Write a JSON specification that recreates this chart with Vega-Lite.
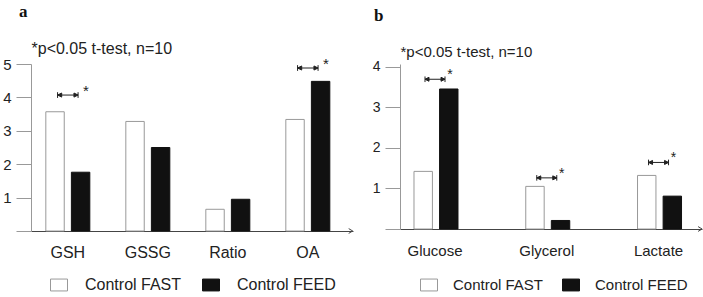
{
  "$schema": "https://vega.github.io/schema/vega-lite/v6.json",
  "padding": {"left": 2, "top": 3, "right": 0, "bottom": 0},
  "background": "white",
  "config": {
    "view": {"stroke": null},
    "font": "Liberation Sans",
    "title": {"font": "Liberation Serif", "fontWeight": "bold", "fontSize": 17, "color": "#111", "anchor": "start", "frame": "group"},
    "axisY": {"grid": false, "tickSize": 15, "tickColor": "#999999", "domainColor": "#999999", "domain": true, "ticks": true, "labelPadding": 5, "labelColor": "#222222", "labelOverlap": false, "labelExpr": "datum.value == 0 ? '' : datum.label", "titleAngle": 0, "titleAlign": "left", "titleBaseline": "alphabetic", "titleX": 0, "titleFontWeight": "normal", "titleColor": "#222222"},
    "axisX": {"ticks": false, "labelColor": "#222222", "domainColor": "#444444", "labelAngle": 0, "grid": false}
  },
  "datasets": {
    "barsA": [
      {"cat": "GSH", "grp": "Control FAST", "value": 3.57},
      {"cat": "GSH", "grp": "Control FEED", "value": 1.76},
      {"cat": "GSSG", "grp": "Control FAST", "value": 3.28},
      {"cat": "GSSG", "grp": "Control FEED", "value": 2.5},
      {"cat": "Ratio", "grp": "Control FAST", "value": 0.65},
      {"cat": "Ratio", "grp": "Control FEED", "value": 0.95},
      {"cat": "OA", "grp": "Control FAST", "value": 3.34},
      {"cat": "OA", "grp": "Control FEED", "value": 4.48}
    ],
    "sigA": [
      {"cat": "GSH", "y": 4.07},
      {"cat": "OA", "y": 4.88}
    ],
    "barsB": [
      {"cat": "Glucose", "grp": "Control FAST", "value": 1.42},
      {"cat": "Glucose", "grp": "Control FEED", "value": 3.45},
      {"cat": "Glycerol", "grp": "Control FAST", "value": 1.05},
      {"cat": "Glycerol", "grp": "Control FEED", "value": 0.21},
      {"cat": "Lactate", "grp": "Control FAST", "value": 1.32},
      {"cat": "Lactate", "grp": "Control FEED", "value": 0.81}
    ],
    "sigB": [
      {"cat": "Glucose", "y": 3.69},
      {"cat": "Glycerol", "y": 1.26},
      {"cat": "Lactate", "y": 1.64}
    ]
  },
  "spacing": 17,
  "resolve": {"scale": {"fill": "independent", "stroke": "independent", "x": "independent", "y": "independent"}, "legend": {"fill": "independent", "stroke": "independent"}},
  "hconcat": [
    {
      "width": 322,
      "height": 167,
      "title": {"text": "a", "dx": -12, "offset": 19},
      "layer": [
        {
          "data": {"name": "barsA"},
          "mark": {"type": "bar", "strokeWidth": 1},
          "encoding": {
            "x": {"field": "cat", "type": "nominal", "sort": ["GSH", "GSSG", "Ratio", "OA"],
              "scale": {"paddingInner": 0.45, "paddingOuter": 0.2375, "align": 0.39},
              "axis": {"title": null, "labelPadding": 13, "labelFontSize": 16}},
            "xOffset": {"field": "grp", "type": "nominal", "sort": ["Control FAST", "Control FEED"], "scale": {"paddingInner": 0.28, "paddingOuter": 0}},
            "y": {"field": "value", "type": "quantitative", "scale": {"domain": [0, 5], "nice": false},
              "axis": {"values": [0, 1, 2, 3, 4, 5], "labelFontSize": 15, "title": "*p<0.05 t-test, n=10", "titleY": -11, "titleFontSize": 16}},
            "fill": {"field": "grp", "type": "nominal", "scale": {"domain": ["Control FAST", "Control FEED"], "range": ["#ffffff", "#111111"]},
              "legend": {"title": null, "orient": "none", "legendX": 19, "legendY": 212, "direction": "horizontal", "symbolType": "M-1,-0.7H1V0.7H-1Z", "symbolSize": 289, "labelFontSize": 16, "labelOffset": 17, "columnPadding": 18, "symbolStrokeWidth": 1, "labelColor": "#222"}},
            "stroke": {"field": "grp", "type": "nominal", "scale": {"domain": ["Control FAST", "Control FEED"], "range": ["#999999", "#111111"]},
              "legend": {"title": null, "orient": "none", "legendX": 19, "legendY": 212, "direction": "horizontal", "symbolType": "M-1,-0.7H1V0.7H-1Z", "symbolSize": 289, "labelFontSize": 16, "labelOffset": 17, "columnPadding": 18, "symbolStrokeWidth": 1, "labelColor": "#222"}}
          }
        },
        {
          "mark": {"type": "rule", "strokeDash": [1, 2], "color": "#aaaaaa", "strokeWidth": 1},
          "encoding": {"y": {"datum": 3, "type": "quantitative", "axis": {"values": [0, 1, 2, 3, 4, 5], "labelFontSize": 15, "title": "*p<0.05 t-test, n=10", "titleY": -11, "titleFontSize": 16}}}
        },
        {
          "data": {"name": "sigA"},
          "mark": {"type": "point", "shape": "M-1,-0.28L-1,0.28M1,-0.28L1,0.28M-1,0L1,0M-1,0L-0.6,-0.2L-0.6,0.2ZM1,0L0.6,-0.2L0.6,0.2Z", "size": 420, "filled": true, "fill": "#222", "stroke": "#222", "strokeWidth": 1, "opacity": 1},
          "encoding": {"x": {"field": "cat", "type": "nominal", "sort": ["GSH", "GSSG", "Ratio", "OA"]}, "y": {"field": "y", "type": "quantitative", "axis": {"values": [0, 1, 2, 3, 4, 5], "labelFontSize": 15, "title": "*p<0.05 t-test, n=10", "titleY": -11, "titleFontSize": 16}}}
        },
        {
          "data": {"name": "sigA"},
          "mark": {"type": "text", "text": "*", "dx": 18, "dy": -4, "fontSize": 15, "color": "#222", "baseline": "middle"},
          "encoding": {"x": {"field": "cat", "type": "nominal", "sort": ["GSH", "GSSG", "Ratio", "OA"]}, "y": {"field": "y", "type": "quantitative", "axis": {"values": [0, 1, 2, 3, 4, 5], "labelFontSize": 15, "title": "*p<0.05 t-test, n=10", "titleY": -11, "titleFontSize": 16}}}
        },
        {
          "data": {"values": [{}]},
          "mark": {"type": "point", "shape": "M-1,-0.6L0,0L-1,0.6", "size": 64, "filled": false, "stroke": "#444", "strokeWidth": 1, "opacity": 1},
          "encoding": {"x": {"datum": "OA", "type": "nominal", "bandPosition": 1.52}, "y": {"datum": 0, "type": "quantitative", "axis": {"values": [0, 1, 2, 3, 4, 5], "labelFontSize": 15, "title": "*p<0.05 t-test, n=10", "titleY": -11, "titleFontSize": 16}}}
        }
      ]
    },
    {
      "width": 302,
      "height": 165,
      "title": {"text": "b", "dx": -26, "offset": 19},
      "layer": [
        {
          "data": {"name": "barsB"},
          "mark": {"type": "bar", "strokeWidth": 1},
          "encoding": {
            "x": {"field": "cat", "type": "nominal", "sort": ["Glucose", "Glycerol", "Lactate"],
              "scale": {"paddingInner": 0.624, "paddingOuter": 0.163, "align": 0.384},
              "axis": {"title": null, "labelPadding": 14, "labelFontSize": 15}},
            "xOffset": {"field": "grp", "type": "nominal", "sort": ["Control FAST", "Control FEED"], "scale": {"paddingInner": 0.25, "paddingOuter": 0}},
            "y": {"field": "value", "type": "quantitative", "scale": {"domain": [0, 4.066], "nice": false},
              "axis": {"values": [0, 1, 2, 3, 4], "labelFontSize": 14, "title": "*p<0.05 t-test, n=10", "titleY": -8, "titleFontSize": 15}},
            "fill": {"field": "grp", "type": "nominal", "scale": {"domain": ["Control FAST", "Control FEED"], "range": ["#ffffff", "#111111"]},
              "legend": {"title": null, "orient": "none", "legendX": 20, "legendY": 212, "direction": "horizontal", "symbolType": "M-1,-0.7H1V0.7H-1Z", "symbolSize": 289, "labelFontSize": 15, "labelOffset": 15, "columnPadding": 16, "symbolStrokeWidth": 1, "labelColor": "#222"}},
            "stroke": {"field": "grp", "type": "nominal", "scale": {"domain": ["Control FAST", "Control FEED"], "range": ["#999999", "#111111"]},
              "legend": {"title": null, "orient": "none", "legendX": 20, "legendY": 212, "direction": "horizontal", "symbolType": "M-1,-0.7H1V0.7H-1Z", "symbolSize": 289, "labelFontSize": 15, "labelOffset": 15, "columnPadding": 16, "symbolStrokeWidth": 1, "labelColor": "#222"}}
          }
        },
        {
          "mark": {"type": "rule", "strokeDash": [1, 2], "color": "#aaaaaa", "strokeWidth": 1},
          "encoding": {"y": {"datum": 2, "type": "quantitative", "axis": {"values": [0, 1, 2, 3, 4], "labelFontSize": 14, "title": "*p<0.05 t-test, n=10", "titleY": -8, "titleFontSize": 15}}}
        },
        {
          "data": {"name": "sigB"},
          "mark": {"type": "point", "shape": "M-1,-0.28L-1,0.28M1,-0.28L1,0.28M-1,0L1,0M-1,0L-0.6,-0.2L-0.6,0.2ZM1,0L0.6,-0.2L0.6,0.2Z", "size": 400, "filled": true, "fill": "#222", "stroke": "#222", "strokeWidth": 1, "opacity": 1},
          "encoding": {"x": {"field": "cat", "type": "nominal", "sort": ["Glucose", "Glycerol", "Lactate"]}, "y": {"field": "y", "type": "quantitative", "axis": {"values": [0, 1, 2, 3, 4], "labelFontSize": 14, "title": "*p<0.05 t-test, n=10", "titleY": -8, "titleFontSize": 15}}}
        },
        {
          "data": {"name": "sigB"},
          "mark": {"type": "text", "text": "*", "dx": 15, "dy": -4, "fontSize": 14, "color": "#222", "baseline": "middle"},
          "encoding": {"x": {"field": "cat", "type": "nominal", "sort": ["Glucose", "Glycerol", "Lactate"]}, "y": {"field": "y", "type": "quantitative", "axis": {"values": [0, 1, 2, 3, 4], "labelFontSize": 14, "title": "*p<0.05 t-test, n=10", "titleY": -8, "titleFontSize": 15}}}
        },
        {
          "data": {"values": [{}]},
          "mark": {"type": "point", "shape": "M-1,-0.6L0,0L-1,0.6", "size": 64, "filled": false, "stroke": "#444", "strokeWidth": 1, "opacity": 1},
          "encoding": {"x": {"datum": "Lactate", "type": "nominal", "bandPosition": 1.536}, "y": {"datum": 0, "type": "quantitative", "axis": {"values": [0, 1, 2, 3, 4], "labelFontSize": 14, "title": "*p<0.05 t-test, n=10", "titleY": -8, "titleFontSize": 15}}}
        }
      ]
    }
  ]
}
